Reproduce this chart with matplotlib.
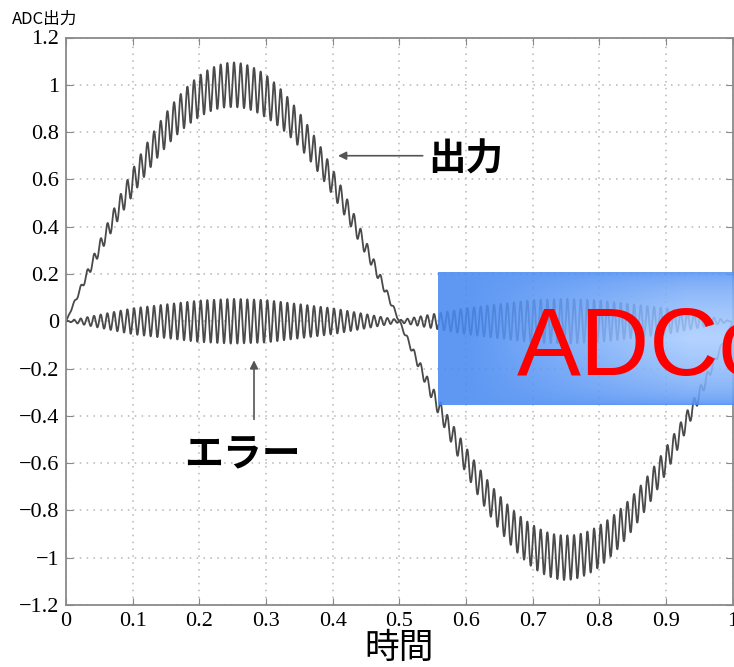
import numpy as np
import matplotlib.pyplot as plt

plt.rcParams['font.family'] = ['Noto Sans CJK JP', 'DejaVu Sans']

# signal parameters
base_amp = 1.0          # main sine amplitude
base_freq = 1.0         # cycles over the time axis
ripple_cycles = 100     # ripple periods per unit time
# error envelope (half peak-to-peak) read at these times
env_t = [0.0, 0.1, 0.2, 0.25, 0.3, 0.4, 0.5, 0.6, 0.7, 0.75, 0.8, 0.9, 1.0]
env_a = [0.0, 0.055, 0.088, 0.095, 0.09, 0.055, 0.005, 0.055, 0.09, 0.095, 0.088, 0.055, 0.0]

xticks = [0, 0.1, 0.2, 0.3, 0.4, 0.5, 0.6, 0.7, 0.8, 0.9, 1]
xticklabels = ['0', '0.1', '0.2', '0.3', '0.4', '0.5', '0.6', '0.7', '0.8', '0.9', '1']
yticks = [-1.2, -1, -0.8, -0.6, -0.4, -0.2, 0, 0.2, 0.4, 0.6, 0.8, 1, 1.2]
yticklabels = ['\u22121.2', '\u22121', '\u22120.8', '\u22120.6', '\u22120.4', '\u22120.2', '0',
               '0.2', '0.4', '0.6', '0.8', '1', '1.2']

t = np.linspace(0, 1, 6000)
env = np.interp(t, env_t, env_a)
error = env * np.sin(2 * np.pi * ripple_cycles * t + 0.3)
output = base_amp * np.sin(2 * np.pi * base_freq * t) + error

fig = plt.figure(figsize=(7.34, 6.67), dpi=100)
ax = fig.add_axes([66/734, 1-605/667, (732.7-66)/734, (605-37.5)/667])
ax.plot(t, output, color='#4a4a4a', lw=1.3)
ax.plot(t, error, color='#4a4a4a', lw=1.3)
ax.set_xlim(0, 1)
ax.set_ylim(-1.2, 1.2)
ax.set_xticks(xticks)
ax.set_xticklabels(xticklabels, family='Liberation Serif', fontsize=16)
ax.set_yticks(yticks)
ax.set_yticklabels(yticklabels, family='Liberation Serif', fontsize=16)
ax.tick_params(direction='in', length=5, color='#888888', top=True, right=True, pad=5)
ax.grid(True, color='#b5b5b5', linestyle=(0, (1, 3.5)), lw=1.1)
for s in ax.spines.values():
    s.set_color('#8a8a8a')
    s.set_linewidth(1.3)

ax.annotate('', xy=(0.408, 0.70), xytext=(0.535, 0.70),
            arrowprops=dict(arrowstyle='-|>', color='#555555', lw=1.2,
                            mutation_scale=12, shrinkA=0, shrinkB=0))
ax.text(0.544, 0.685, '出力', fontsize=27, fontweight='bold', va='center', ha='left')
ax.annotate('', xy=(0.282, -0.165), xytext=(0.282, -0.415),
            arrowprops=dict(arrowstyle='-|>', color='#555555', lw=1.2,
                            mutation_scale=12, shrinkA=0, shrinkB=0))
ax.text(0.265, -0.565, 'エラー', fontsize=28, fontweight='bold', va='center', ha='center')

ax.set_xlabel('時間', fontsize=25, labelpad=0)
fig.text(12/734, 1-19/667, 'ADC出力', fontsize=12, va='center', ha='left')

# blue overlay box with a soft gradient
bx = fig.add_axes([438/734, 1-405/667, (734-438)/734, (405-272)/667])
bx.set_axis_off()
gx = np.linspace(0, 1, 300)
gy = np.linspace(0, 1, 140)
fx = np.clip((gx - 0.1) / 0.75, 0, 1)
fy = np.clip(1 - np.abs(gy - 0.5) / 0.5, 0, 1) ** 0.5
g = np.outer(fy, fx)
dark = np.array([72, 138, 242]) / 255
light = np.array([170, 205, 255]) / 255
img = dark[None, None, :] + (light - dark)[None, None, :] * g[:, :, None]
bx.imshow(img, aspect='auto', extent=(0, 1, 0, 1), alpha=0.88)
bx.set_xlim(0, 1)
bx.set_ylim(0, 1)
fig.text(517/734, 1-375/667, 'ADCo', color='#ff0000', fontsize=69,
         family='Liberation Sans', ha='left', va='baseline')

fig.savefig('out.png', dpi=100)
